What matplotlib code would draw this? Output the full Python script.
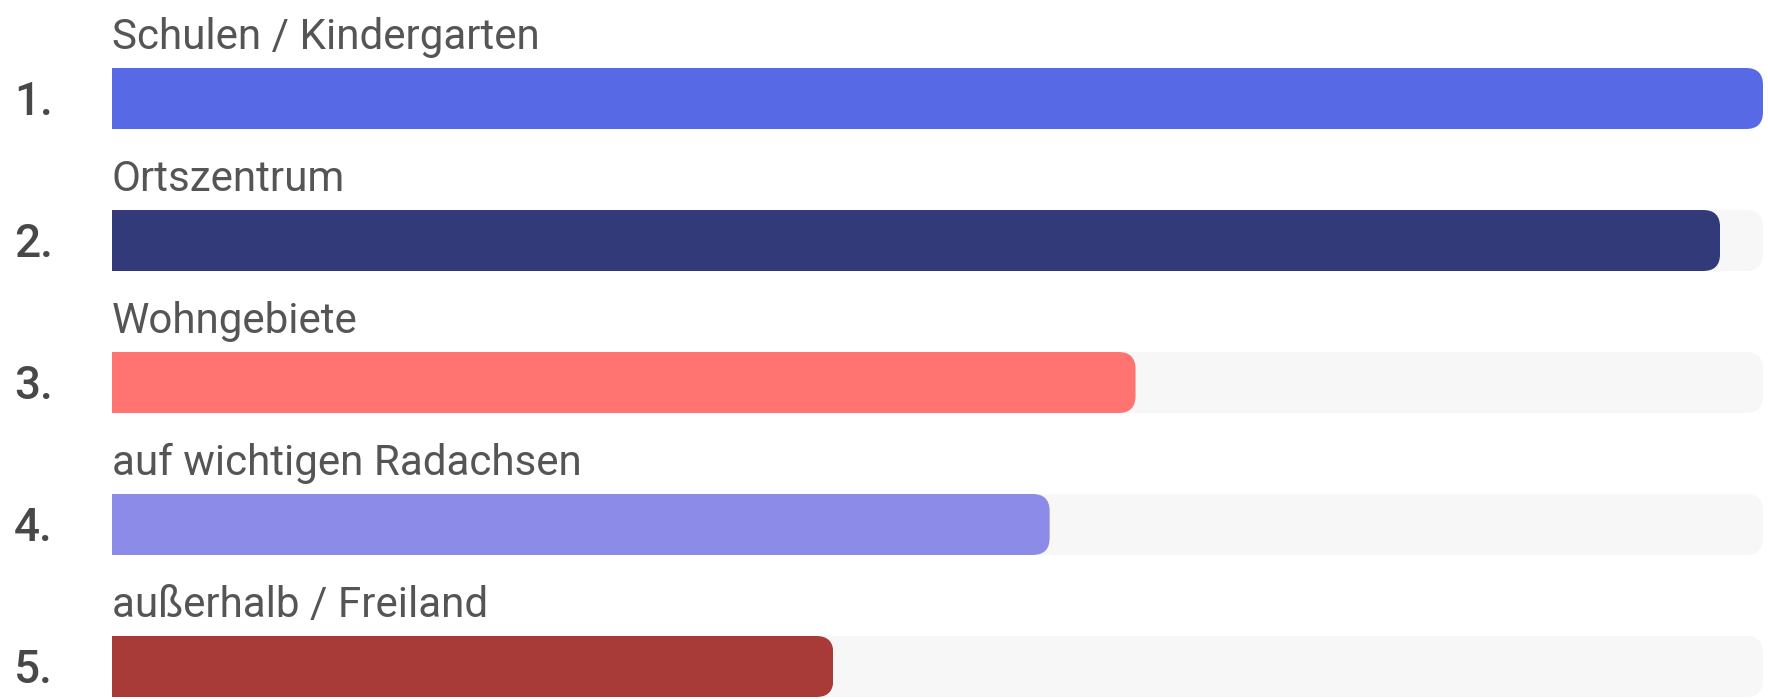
import matplotlib
matplotlib.use("Agg")
import matplotlib.pyplot as plt
from matplotlib.patches import FancyBboxPatch
from matplotlib.transforms import blended_transform_factory

categories = ["Schulen / Kindergarten", "Ortszentrum", "Wohngebiete",
              "auf wichtigen Radachsen", "außerhalb / Freiland"]
ranks = ["1.", "2.", "3.", "4.", "5."]
values = [100, 97.4, 62.0, 56.8, 43.7]
colors = ["#5869E6", "#323A7A", "#FF7370", "#8C8CE8", "#A83A38"]
track_color = "#F7F7F7"

W, H = 1768, 699
fig = plt.figure(figsize=(W / 100, H / 100), dpi=100)
left_px, right_px = 111.7, 1763
ax = fig.add_axes([left_px / W, 0, (right_px - left_px) / W, 1])
pitch = 142.0
c0 = 98.5
ax.set_xlim(0, 100)
ax.set_ylim((H - c0) / pitch, -c0 / pitch)
ax.axis("off")

bar_h = 61 / pitch
px_x = (right_px - left_px) / 100.0
r_px = 17
r_x = r_px / px_x
aspect = px_x / pitch

ypos = list(range(len(categories)))


def rounded_clip(y, v):
    big = 50
    p = FancyBboxPatch((-big, y - bar_h / 2), v + big, bar_h,
                       boxstyle=f"round,pad=0,rounding_size={r_x}",
                       mutation_aspect=aspect, transform=ax.transData,
                       facecolor="none", edgecolor="none")
    return p


tracks = ax.barh(ypos, [100] * len(ypos), height=bar_h, color=track_color, linewidth=0)
bars = ax.barh(ypos, values, height=bar_h, color=colors, linewidth=0)
for y, v, t, b in zip(ypos, values, tracks, bars):
    t.set_clip_path(rounded_clip(y, 100))
    b.set_clip_path(rounded_clip(y, v))

fam = ["Roboto", "DejaVu Sans"]
for y, cat in zip(ypos, categories):
    ax.text(0, y - bar_h / 2 - 19 / pitch, cat, fontsize=30.3, color="#555555",
            family=fam, ha="left", va="baseline")

tr = blended_transform_factory(fig.transFigure, ax.transData)
for y, r in zip(ypos, ranks):
    ax.text(14 / W, y + 16.5 / pitch, r, fontsize=33, color="#484848",
            family=fam, fontweight="medium", ha="left", va="baseline", transform=tr)

fig.savefig("out.png", dpi=100, facecolor="white")
